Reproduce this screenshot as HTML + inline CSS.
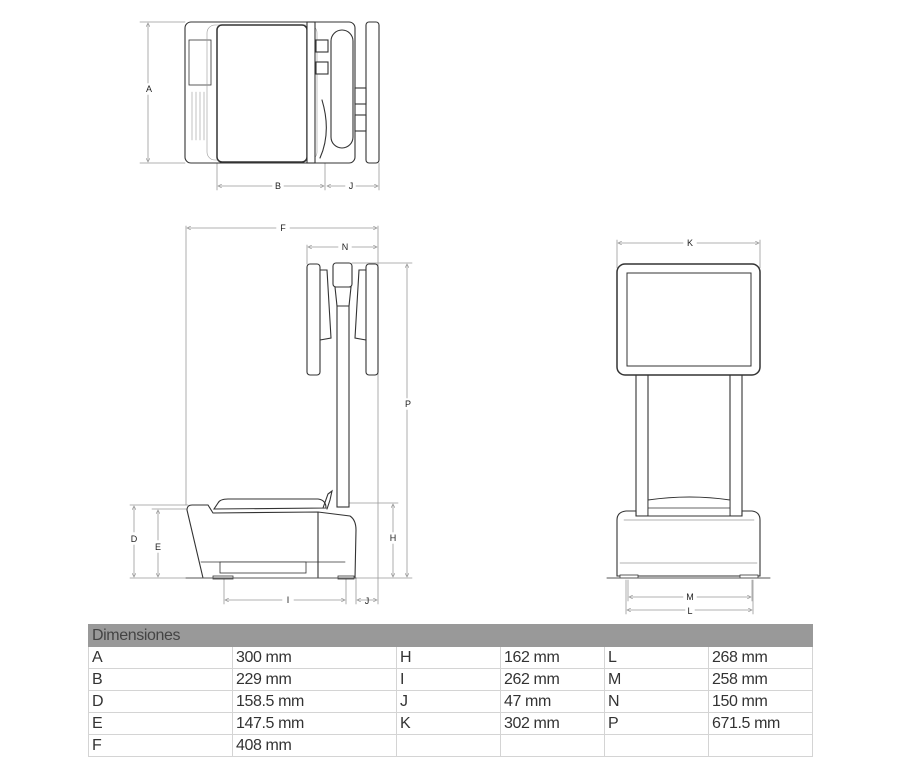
<!DOCTYPE html>
<html><head><meta charset="utf-8"><style>
html,body{margin:0;padding:0;background:#fff;}
body{width:900px;height:770px;position:relative;overflow:hidden;font-family:"Liberation Sans Narrow","Liberation Sans",sans-serif;}
svg{position:absolute;left:0;top:0;}
table{position:absolute;left:88px;top:624px;border-collapse:collapse;width:724px;table-layout:fixed;color:#333;font-size:16px;}
td{border:1px solid #d4d4d4;height:21px;padding:0 0 0 3px;line-height:21px;letter-spacing:-0.4px;}
th{background:#999;color:#444;font-weight:normal;text-align:left;height:21px;padding:0 0 0 3px;font-size:16px;letter-spacing:-0.4px;border:1px solid #999;}
</style></head><body>
<svg width="900" height="620" viewBox="0 0 900 620" font-family="Liberation Sans, sans-serif" font-size="9" fill="none" stroke-linecap="round">
<defs><marker id="a" viewBox="0 0 6 6" refX="6" refY="3" markerWidth="5" markerHeight="5" orient="auto-start-reverse"><path d="M0,0L6,3L0,6" fill="none" stroke="#999" stroke-width="1"/></marker></defs>
<g stroke="#999" stroke-width="0.8">
<!-- top view dims -->
<line x1="140" y1="22" x2="185" y2="22"/><line x1="140" y1="163" x2="185" y2="163"/>
<line x1="148" y1="23" x2="148" y2="83" marker-start="url(#a)"/><line x1="148" y1="95" x2="148" y2="162" marker-end="url(#a)"/>
<line x1="217" y1="163" x2="217" y2="190"/><line x1="325" y1="150" x2="325" y2="190"/><line x1="379" y1="163" x2="379" y2="190"/>
<line x1="218" y1="186" x2="272" y2="186" marker-start="url(#a)"/><line x1="284" y1="186" x2="324" y2="186" marker-end="url(#a)"/>
<line x1="327" y1="186" x2="345" y2="186" marker-start="url(#a)"/><line x1="356" y1="186" x2="378" y2="186" marker-end="url(#a)"/>
<!-- side view dims -->
<line x1="186" y1="226" x2="186" y2="505"/><line x1="378" y1="226" x2="378" y2="604"/><line x1="307" y1="245" x2="307" y2="264"/>
<line x1="187" y1="228" x2="276" y2="228" marker-start="url(#a)"/><line x1="290" y1="228" x2="377" y2="228" marker-end="url(#a)"/>
<line x1="308" y1="247" x2="338" y2="247" marker-start="url(#a)"/><line x1="352" y1="247" x2="377" y2="247" marker-end="url(#a)"/>
<line x1="352" y1="263" x2="412" y2="263"/><line x1="407" y1="264" x2="407" y2="398" marker-start="url(#a)"/><line x1="407" y1="410" x2="407" y2="577" marker-end="url(#a)"/>
<line x1="345" y1="503" x2="398" y2="503"/><line x1="393" y1="504" x2="393" y2="532" marker-start="url(#a)"/><line x1="393" y1="544" x2="393" y2="577" marker-end="url(#a)"/>
<line x1="130" y1="505" x2="188" y2="505"/><line x1="152" y1="509" x2="188" y2="509"/>
<line x1="134" y1="506" x2="134" y2="532" marker-start="url(#a)"/><line x1="134" y1="545" x2="134" y2="577" marker-end="url(#a)"/>
<line x1="158" y1="510" x2="158" y2="540" marker-start="url(#a)"/><line x1="158" y1="553" x2="158" y2="577" marker-end="url(#a)"/>
<line x1="130" y1="578" x2="210" y2="578"/><line x1="340" y1="578" x2="412" y2="578"/>
<line x1="224" y1="575" x2="224" y2="604"/><line x1="346" y1="575" x2="346" y2="604"/><line x1="356" y1="578" x2="356" y2="604"/>
<line x1="225" y1="600" x2="282" y2="600" marker-start="url(#a)"/><line x1="294" y1="600" x2="345" y2="600" marker-end="url(#a)"/>
<line x1="357" y1="600" x2="377" y2="600" marker-start="url(#a)" marker-end="url(#a)"/>
<!-- front view dims -->
<line x1="617" y1="240" x2="617" y2="268"/><line x1="760" y1="240" x2="760" y2="268"/>
<line x1="618" y1="243" x2="683" y2="243" marker-start="url(#a)"/><line x1="697" y1="243" x2="759" y2="243" marker-end="url(#a)"/>
<line x1="628" y1="580" x2="628" y2="601"/><line x1="752" y1="580" x2="752" y2="601"/><line x1="626" y1="580" x2="626" y2="614"/><line x1="753" y1="580" x2="753" y2="614"/>
<line x1="629" y1="597" x2="683" y2="597" marker-start="url(#a)"/><line x1="697" y1="597" x2="751" y2="597" marker-end="url(#a)"/>
<line x1="627" y1="610" x2="685" y2="610" marker-start="url(#a)"/><line x1="695" y1="610" x2="752" y2="610" marker-end="url(#a)"/>
</g>
<g fill="#222" stroke="none" text-anchor="middle">
<text x="149" y="92">A</text><text x="278" y="189">B</text><text x="351" y="189">J</text>
<text x="283" y="231">F</text><text x="345" y="250">N</text><text x="408" y="407">P</text><text x="393" y="541">H</text>
<text x="134" y="542">D</text><text x="158" y="550">E</text><text x="288" y="603">I</text><text x="367" y="604">J</text>
<text x="690" y="246">K</text><text x="690" y="600">M</text><text x="690" y="614">L</text>
</g>
<g stroke="#333" stroke-width="1.1" fill="#fff">
<!-- top view -->
<rect x="185" y="22" width="170" height="141" rx="6"/>
<rect x="189" y="40" width="22" height="45" stroke-width="0.8"/>
<g stroke="#999" stroke-width="0.6"><line x1="192" y1="92" x2="192" y2="140"/><line x1="196" y1="92" x2="196" y2="140"/><line x1="200" y1="92" x2="200" y2="140"/><line x1="204" y1="92" x2="204" y2="140"/><rect x="207" y="25" width="110" height="135" rx="8" fill="none"/></g>
<rect x="217" y="25" width="90" height="137" rx="5" stroke-width="1.5"/>
<rect x="307" y="22" width="8" height="141"/>
<rect x="316" y="40" width="12" height="12"/><rect x="316" y="62" width="12" height="12"/>
<path d="M322,100 C328,120 328,140 320,158" fill="none"/>
<rect x="331" y="30" width="22" height="118" rx="11"/>
<rect x="366" y="22" width="13" height="141" rx="3"/>
<rect x="355" y="88" width="11" height="16"/><rect x="355" y="115" width="11" height="16"/>
<!-- side view -->
<rect x="337" y="285" width="12" height="222"/>
<rect x="333" y="263" width="19" height="24" rx="3"/>
<path d="M335,287 L351,287 L349,306 L337,306Z"/>
<path d="M318,270 L327,270 L331,338 L320,340Z" />
<path d="M368,270 L359,270 L355,338 L366,340Z" />
<rect x="307" y="264" width="13" height="111" rx="3"/>
<rect x="366" y="264" width="12" height="111" rx="3"/>
<path d="M187,510 Q187,505 192,505 L208,505 L213,513 L318,512 L350,516 Q356,520 356,530 L355,578 L203,578 Z"/>
<line x1="318" y1="512" x2="318" y2="578"/>
<line x1="201" y1="562" x2="345" y2="562" stroke-width="0.8"/>
<rect x="220" y="562" width="86" height="11" stroke-width="0.8"/>
<path d="M218,503 Q220,499 228,499 L318,499 Q326,500 326,508 L214,509 Z"/>
<path d="M323,508 L328,494 L332,491 L330,500 L327,509" fill="none"/>
<rect x="213" y="576" width="20" height="3" stroke-width="0.8"/><rect x="338" y="576" width="16" height="3" stroke-width="0.8"/>
<!-- front view -->
<rect x="636" y="374" width="12" height="142"/><rect x="730" y="374" width="12" height="142"/>
<path d="M648,500 Q690,494 730,500 L730,516 L648,516 Z" stroke-width="0.9"/>
<line x1="648" y1="508" x2="730" y2="508" stroke-width="0.8"/>
<path d="M617,520 Q617,512 626,511 L636,511 L636,516 L742,516 L742,511 L752,511 Q760,512 760,520 L760,576 L617,576 Z"/>
<line x1="624" y1="520" x2="754" y2="520" stroke="#999" stroke-width="0.7"/>
<line x1="620" y1="563" x2="757" y2="563" stroke="#999" stroke-width="0.7"/>
<rect x="617" y="264" width="143" height="111" rx="8" stroke-width="1.5"/>
<rect x="627" y="273" width="124" height="93" stroke-width="1"/>
<rect x="620" y="575" width="18" height="3" stroke-width="0.8"/><rect x="740" y="575" width="18" height="3" stroke-width="0.8"/>
</g>
<line x1="607" y1="578" x2="770" y2="578" stroke="#555" stroke-width="1"/>
<line x1="186" y1="578" x2="356" y2="578" stroke="#555" stroke-width="1"/>
</svg>
<table>
<colgroup><col style="width:144px"><col style="width:164px"><col style="width:104px"><col style="width:104px"><col style="width:104px"><col style="width:104px"></colgroup>
<tr><th colspan="6">Dimensiones</th></tr>
<tr><td>A</td><td>300 mm</td><td>H</td><td>162 mm</td><td>L</td><td>268 mm</td></tr>
<tr><td>B</td><td>229 mm</td><td>I</td><td>262 mm</td><td>M</td><td>258 mm</td></tr>
<tr><td>D</td><td>158.5 mm</td><td>J</td><td>47 mm</td><td>N</td><td>150 mm</td></tr>
<tr><td>E</td><td>147.5 mm</td><td>K</td><td>302 mm</td><td>P</td><td>671.5 mm</td></tr>
<tr><td>F</td><td>408 mm</td><td></td><td></td><td></td><td></td></tr>
</table>
</body></html>
